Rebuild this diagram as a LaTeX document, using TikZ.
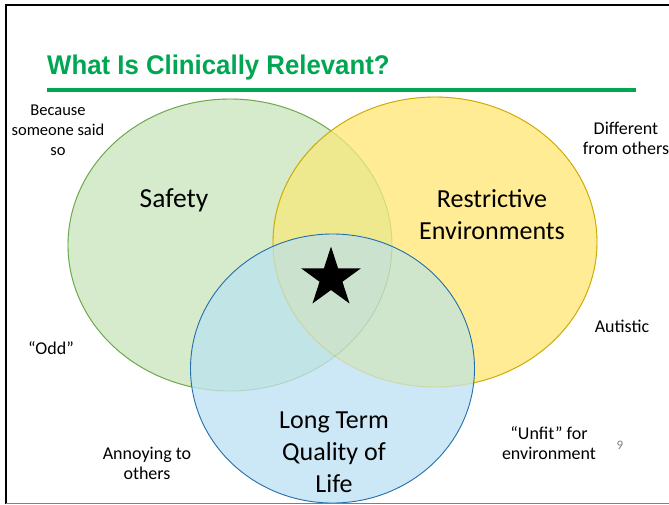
\documentclass[tikz,border=0pt]{standalone}
\usepackage{fontspec}
\setmainfont{Carlito}
\newfontfamily\titlefont{Liberation Sans}
\usetikzlibrary{shapes.geometric}
\definecolor{gfill}{RGB}{214,234,204}
\definecolor{yfill}{RGB}{255,236,148}
\definecolor{bfill}{RGB}{204,232,247}
\definecolor{gyfill}{RGB}{238,232,142}
\definecolor{gbfill}{RGB}{193,228,230}
\definecolor{ybfill}{RGB}{208,230,204}
\definecolor{gybfill}{RGB}{203,226,206}
\definecolor{gline}{RGB}{106,168,72}
\definecolor{yline}{RGB}{205,170,0}
\definecolor{bline}{RGB}{36,110,170}
\definecolor{titlegreen}{RGB}{0,166,81}
\tikzset{
  bigtext/.style={align=center, font=\fontsize{26}{32}\selectfont, inner sep=0pt},
  smalltext/.style={align=center, font=\fontsize{18}{20}\selectfont, inner sep=0pt},
}
\def\GE{(230,245) ellipse [x radius=162pt, y radius=146pt]}
\def\YE{(435,242) ellipse [x radius=162pt, y radius=145pt]}
\def\BE{(332.5,368.5) ellipse [x radius=142pt, y radius=134.5pt]}
\def\BIG{(-20,-20) rectangle (700,540)}
\begin{document}
\begin{tikzpicture}[x=1pt,y=-1pt]
\useasboundingbox (0,0) rectangle (669,504);
% region fills
\fill[gfill] \GE;
\fill[yfill] \YE;
\fill[bfill] \BE;
\begin{scope}\clip \GE; \fill[gyfill] \YE; \end{scope}
\begin{scope}\clip \GE; \fill[gbfill] \BE; \end{scope}
\begin{scope}\clip \YE; \fill[ybfill] \BE; \end{scope}
\begin{scope}\clip \GE; \clip \YE; \fill[gybfill] \BE; \end{scope}
% faint inner outlines
\draw[gline, line width=0.9pt, draw opacity=0.25] \GE;
\draw[yline, line width=0.9pt, draw opacity=0.25] \YE;
% full outlines where on top
\begin{scope}[even odd rule]
  \clip \BIG \YE;
  \clip \BIG \BE;
  \draw[gline, line width=0.9pt] \GE;
\end{scope}
\begin{scope}[even odd rule]
  \clip \BIG \BE;
  \draw[yline, line width=0.9pt] \YE;
\end{scope}
\draw[bline, line width=0.9pt] \BE;
% frame
\draw[line width=2pt] (6,504) -- (6,5) -- (669,5);
\draw[gray, line width=1.5pt] (6,503.5) -- (669,503.5);
% title
\node[anchor=base west, inner sep=0pt, text=titlegreen] (title) at (47,74)
  {\scalebox{0.955}[1]{\titlefont\bfseries\fontsize{27}{32}\selectfont What Is Clinically Relevant?}};
\coordinate (rl) at (47,90);
\coordinate (rr) at (636,90);
\draw[titlegreen, line width=4pt] (rl) -- (rr);
% texts
\node[smalltext, font=\fontsize{16.5}{20}\selectfont] (because) at (58,130) {Because\\someone said\\so};
\node[bigtext, font=\fontsize{27.5}{32}\selectfont] (safety) at (174,200) {Safety};
\node[bigtext] (restr) at (492,215) {Restrictive\\Environments};
\node[bigtext] (ltq) at (334,452) {Long Term\\Quality of\\Life};
\node[smalltext] (diff) at (626,138) {Different\\from others};
\node[smalltext] (aut) at (622,326) {Autistic};
\node[smalltext] (odd) at (51,348) {“Odd”};
\node[smalltext] (ann) at (147,463) {Annoying to\\others};
\node[smalltext] (unfit) at (549,443) {“Unfit” for\\environment};
\node[inner sep=0pt, text=gray, font=\fontsize{13}{15}\selectfont] (nine) at (620,445) {9};
\node[star, star points=5, star point ratio=2.618, fill=black, minimum size=63pt, inner sep=0pt] (star) at (331,278) {};
\end{tikzpicture}
\end{document}
